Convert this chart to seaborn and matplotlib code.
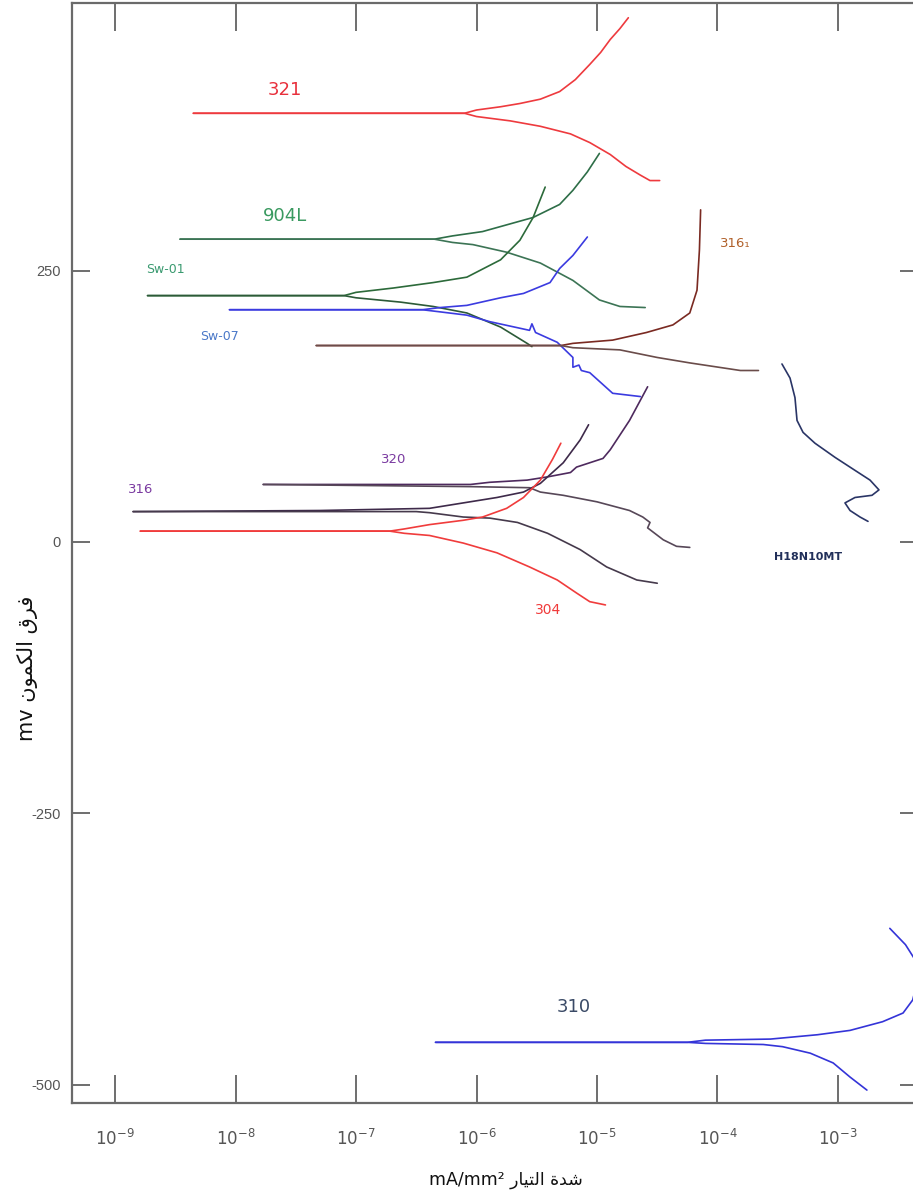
import numpy as np
import pandas as pd
import matplotlib
matplotlib.use("Agg")
import matplotlib.pyplot as plt
import seaborn as sns
from matplotlib.ticker import NullLocator, FixedLocator, FixedFormatter

# ---------------- data (log10 of current density in mA/mm^2, potential in mV) ----------------
# 321
s321_an_logi = [-8.35, -6.10, -6.00, -5.80, -5.64, -5.47, -5.31, -5.18, -5.06, -4.97, -4.89, -4.81, -4.74]
s321_an_E = [395, 395, 398, 401, 404, 408, 415, 426, 440, 451, 463, 473, 483]
s321_ca_logi = [-8.35, -6.10, -6.00, -5.72, -5.47, -5.22, -5.06, -4.89, -4.76, -4.64, -4.56, -4.48]
s321_ca_E = [395, 395, 392, 388, 383, 376, 368, 357, 346, 338, 333, 333]
# 904L
s904_an_logi = [-8.46, -6.35, -6.20, -5.95, -5.53, -5.31, -5.20, -5.08, -4.98]
s904_an_E = [279, 279, 282, 286, 299, 311, 324, 341, 358]
s904_ca_logi = [-8.46, -6.35, -6.20, -6.03, -5.75, -5.47, -5.20, -4.98, -4.81, -4.60]
s904_ca_E = [279, 279, 276, 274, 267, 257, 241, 223, 217, 216]
# Sw-01
sw01_an_logi = [-8.73, -7.10, -7.00, -6.69, -6.36, -6.08, -5.80, -5.64, -5.53, -5.43]
sw01_an_E = [227, 227, 230, 234, 239, 244, 260, 278, 299, 327]
sw01_ca_logi = [-8.73, -7.10, -7.00, -6.63, -6.36, -6.08, -5.80, -5.58, -5.54]
sw01_ca_E = [227, 227, 225, 221, 217, 211, 198, 183, 180]
# Sw-07
sw07_an_logi = [-8.05, -6.45, -6.30, -6.08, -5.80, -5.61, -5.39, -5.31, -5.20, -5.08]
sw07_an_E = [214, 214, 216, 218, 225, 229, 239, 252, 264, 281]
sw07_ca_logi = [-8.05, -6.45, -6.30, -6.08, -5.89, -5.56, -5.54, -5.51, -5.33, -5.20, -5.20, -5.15,
                -5.13, -5.06, -4.87, -4.64]
sw07_ca_E = [214, 214, 212, 209, 203, 195, 201, 193, 184, 170, 161, 163, 158, 156, 137, 134]
# 316(1)
s3161_an_logi = [-7.33, -5.30, -5.20, -4.87, -4.59, -4.37, -4.23, -4.17, -4.15, -4.14]
s3161_an_E = [181, 181, 183, 186, 193, 200, 211, 232, 269, 306]
s3161_ca_logi = [-7.33, -5.30, -5.20, -4.81, -4.50, -4.23, -3.81, -3.66]
s3161_ca_E = [181, 181, 179, 177, 170, 165, 158, 158]
# 320
s320_an_logi = [-7.77, -6.05, -5.89, -5.58, -5.41, -5.22, -5.17, -4.95, -4.89, -4.73, -4.58]
s320_an_E = [53, 53, 55, 57, 60, 64, 69, 77, 85, 112, 143]
s320_ca_logi = [-7.77, -6.05, -5.56, -5.47, -5.28, -5.00, -4.73, -4.62, -4.56, -4.58, -4.45, -4.34, -4.23]
s320_ca_E = [53, 51, 50, 46, 43, 37, 29, 23, 18, 13, 2, -4, -5]
# 316
s316_an_logi = [-8.85, -7.30, -6.39, -6.11, -5.83, -5.61, -5.47, -5.28, -5.14, -5.07]
s316_an_E = [28, 29, 31, 36, 41, 46, 54, 73, 94, 108]
s316_ca_logi = [-8.85, -6.50, -6.39, -6.11, -5.89, -5.66, -5.41, -5.14, -4.92, -4.67, -4.50]
s316_ca_E = [28, 28, 27, 23, 22, 18, 8, -7, -23, -35, -38]
# 304
s304_an_logi = [-8.79, -6.72, -6.60, -6.39, -6.11, -5.95, -5.75, -5.61, -5.47, -5.37, -5.30]
s304_an_E = [10, 10, 12, 16, 20, 23, 31, 41, 57, 76, 91]
s304_ca_logi = [-8.79, -6.72, -6.60, -6.39, -6.11, -5.83, -5.56, -5.33, -5.17, -5.06, -4.93]
s304_ca_E = [10, 10, 8, 6, -1, -10, -23, -35, -47, -55, -58]
# H18N10MT
h18_logi = [-3.465, -3.398, -3.357, -3.340, -3.290, -3.191, -3.025, -2.859, -2.734, -2.660,
            -2.718, -2.859, -2.942, -2.900, -2.817, -2.751]
h18_E = [164, 151, 133, 112, 101, 91, 78, 66, 57, 48, 43, 41, 36, 29, 23, 19]
# 310
s310_an_logi = [-6.34, -4.25, -4.10, -3.56, -3.17, -2.90, -2.63, -2.46, -2.38, -2.34, -2.36, -2.44, -2.57]
s310_an_E = [-461, -461, -459, -458, -454, -450, -442, -434, -422, -404, -385, -371, -356]
s310_ca_logi = [-6.34, -4.25, -4.10, -3.62, -3.46, -3.23, -3.04, -2.90, -2.76]
s310_ca_E = [-461, -461, -462, -463, -465, -471, -480, -493, -505]

# curve labels
label_texts = ["321", "904L", "Sw-01", "Sw-07", "316\u2081", "320", "316", "304", "H18N10MT", "310"]
label_logi = [-7.59, -7.59, -8.585, -8.13, -3.855, -6.69, -8.79, -5.41, -3.25, -5.19]
label_E = [416, 300, 251, 189, 275, 76, 48, -63, -14, -428]

y_ticks = [250, 0, -250, -500]
y_tick_labels = ["250", "0", "-250", "-500"]
x_tick_exp = [-9, -8, -7, -6, -5, -4, -3]
x_tick_labels = ["$10^{-9}$", "$10^{-8}$", "$10^{-7}$", "$10^{-6}$", "$10^{-5}$", "$10^{-4}$", "$10^{-3}$"]

# ---------------- styling ----------------
series = [
    ("321_an", s321_an_logi, s321_an_E, "#ee3a3e"),
    ("321_ca", s321_ca_logi, s321_ca_E, "#ee3a3e"),
    ("904_an", s904_an_logi, s904_an_E, "#2e6e48"),
    ("904_ca", s904_ca_logi, s904_ca_E, "#3c7455"),
    ("sw01_an", sw01_an_logi, sw01_an_E, "#2c6a3a"),
    ("sw01_ca", sw01_ca_logi, sw01_ca_E, "#2c5a38"),
    ("sw07_an", sw07_an_logi, sw07_an_E, "#3b3be0"),
    ("sw07_ca", sw07_ca_logi, sw07_ca_E, "#3b3be0"),
    ("3161_an", s3161_an_logi, s3161_an_E, "#7a2a22"),
    ("3161_ca", s3161_ca_logi, s3161_ca_E, "#6a4c4a"),
    ("320_an", s320_an_logi, s320_an_E, "#4e2a5e"),
    ("320_ca", s320_ca_logi, s320_ca_E, "#574858"),
    ("316_an", s316_an_logi, s316_an_E, "#3e2a4a"),
    ("316_ca", s316_ca_logi, s316_ca_E, "#463a4c"),
    ("304_an", s304_an_logi, s304_an_E, "#f03c3c"),
    ("304_ca", s304_ca_logi, s304_ca_E, "#f03c3c"),
    ("h18", h18_logi, h18_E, "#2a3566"),
    ("310_an", s310_an_logi, s310_an_E, "#3434d8"),
    ("310_ca", s310_ca_logi, s310_ca_E, "#3434d8"),
]
label_colors = ["#e8303c", "#3a9a60", "#3a9a70", "#4a78c8", "#b0602a",
                "#7a3aa0", "#7a3aa0", "#f03a3a", "#22305a", "#3a4a66"]
label_sizes = [13, 13, 9, 9, 9.5, 9.5, 9.5, 10, 8, 13]

rows = []
for key, li, ee, _ in series:
    for k, (a, b) in enumerate(zip(li, ee)):
        rows.append({"series": key, "order": k, "i": 10.0 ** a, "E": b})
df = pd.DataFrame(rows)
palette = {key: c for key, _, _, c in series}

sns.set_style("white")
plt.rcParams["font.family"] = ["DejaVu Sans"]

W, H = 913, 1199
fig = plt.figure(figsize=(W / 100, H / 100), dpi=100)
left_px, right_px, top_px, bottom_px = 72, 918, 3, 1103
ax = fig.add_axes([left_px / W, 1 - bottom_px / H, (right_px - left_px) / W, (bottom_px - top_px) / H])
ax.set_xscale("log")

sns.lineplot(data=df, x="i", y="E", hue="series", palette=palette, units="series",
             estimator=None, sort=False, legend=False, linewidth=1.2, ax=ax)

ax.set_xlim(10 ** -9.357, 10 ** -2.336)
ax.set_ylim(-516.9, 496.6)

ax.xaxis.set_major_locator(FixedLocator([10.0 ** e for e in x_tick_exp]))
ax.xaxis.set_major_formatter(FixedFormatter(x_tick_labels))
ax.xaxis.set_minor_locator(NullLocator())
ax.set_yticks(y_ticks)
ax.set_yticklabels(y_tick_labels)

for sp in ax.spines.values():
    sp.set_color("#6a6a6a")
    sp.set_linewidth(1.6)

ax.tick_params(axis="x", which="major", direction="in", length=20, width=1.2, color="#555555",
               top=True, bottom=True, labelsize=12, pad=18, labelcolor="#555555")
ax.tick_params(axis="y", which="major", direction="in", length=13, width=1.2, color="#555555",
               left=True, right=True, labelsize=10.5, pad=8, labelcolor="#555555")
for t in ax.get_xticklabels() + ax.get_yticklabels():
    t.set_fontfamily(["Liberation Sans", "DejaVu Sans"])

ax.set_xlabel("")
ax.set_ylabel("")

for txt, li, ee, col, fs in zip(label_texts, label_logi, label_E, label_colors, label_sizes):
    weight = "bold" if txt.startswith("H18") else "normal"
    ax.text(10.0 ** li, ee, txt, color=col, fontsize=fs, ha="center", va="center",
            fontweight=weight, family=["DejaVu Sans"])

# Arabic axis titles (presentation forms, visual order)
xlabel_text = "mA/mm\u00b2 " + "\uFEAD\uFE8E\uFEF4\uFE98\uFEDF\uFE8D \uFE93\uFEAA\uFEB7"
ylabel_text = "mv " + "\uFEE5\uFEEE\uFEE4\uFEDC\uFEDF\uFE8D \uFED5\uFEAE\uFED3"
fig.text(506 / W, 1 - 1180 / H, xlabel_text, ha="center", va="center", fontsize=12.5,
         color="#111111", family=["DejaVu Sans"])
fig.text(28 / W, 1 - 668 / H, ylabel_text, ha="center", va="center", fontsize=15,
         rotation=90, color="#111111", family=["DejaVu Sans"])

fig.savefig("out.png", dpi=100, facecolor="white")
